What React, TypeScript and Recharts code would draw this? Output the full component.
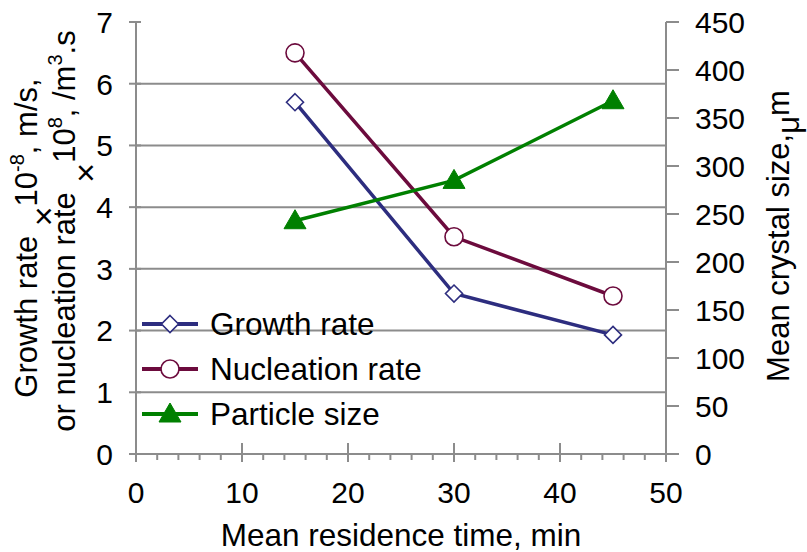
import React from "react";
import { LineChart, Line, XAxis, YAxis, ReferenceLine } from "recharts";

const residenceTime = [15, 30, 45];
const growthRate = [5.7, 2.6, 1.93];
const nucleationRate = [6.5, 3.52, 2.56];
const particleSize = [243, 285, 368];

const xTicks = [0, 2, 4, 6, 8, 10, 12, 14, 16, 18, 20, 22, 24, 26, 28, 30, 32, 34, 36, 38, 40, 42, 44, 46, 48, 50];
const leftTicks = [0, 1, 2, 3, 4, 5, 6, 7];
const rightTicks = [0, 50, 100, 150, 200, 250, 300, 350, 400, 450];
const gridValues = [1, 2, 3, 4, 5, 6];

const data = residenceTime.map((t, i) => ({
  t,
  growth: growthRate[i],
  nucleation: nucleationRate[i],
  size: particleSize[i],
}));

const FONT = "'Liberation Sans', Arial, sans-serif";
const AXIS = "#8c8c8c";
const NAVY = "#2d2d7f";
const MAROON = "#6c0b3d";
const GREEN = "#008000";
const FS = 30;
const TFS = 31;

const XTick = (props: any) => {
  const { x, y, payload } = props;
  const v = payload.value;
  const major = v % 10 === 0;
  return (
    <g>
      {major ? (
        <line x1={x} x2={x} y1={y - 11} y2={y + 8} stroke={AXIS} strokeWidth={2} />
      ) : (
        <line x1={x} x2={x} y1={y} y2={y + 6} stroke={AXIS} strokeWidth={2} />
      )}
      {major && (
        <text x={x} y={y + 49} textAnchor="middle" fontFamily={FONT} fontSize={FS} fill="#000">
          {v}
        </text>
      )}
    </g>
  );
};

const LeftTick = (props: any) => {
  const { x, y, payload } = props;
  return (
    <g>
      <line x1={x - 7} x2={x + 5} y1={y} y2={y} stroke={AXIS} strokeWidth={2} />
      <text x={x - 23} y={y} dy="0.36em" textAnchor="end" fontFamily={FONT} fontSize={FS} fill="#000">
        {payload.value}
      </text>
    </g>
  );
};

const RightTick = (props: any) => {
  const { x, y, payload } = props;
  return (
    <g>
      <line x1={x} x2={x + 13} y1={y} y2={y} stroke={AXIS} strokeWidth={2} />
      <text x={x + 29} y={y} dy="0.36em" textAnchor="start" fontFamily={FONT} fontSize={FS} fill="#000">
        {payload.value}
      </text>
    </g>
  );
};

const Diamond = (props: any) => {
  const { cx, cy, fill } = props;
  if (cx == null || cy == null) return null;
  const s = 8.5;
  return (
    <polygon
      points={`${cx},${cy - s} ${cx + s},${cy} ${cx},${cy + s} ${cx - s},${cy}`}
      fill={fill || "none"}
      stroke={NAVY}
      strokeWidth={1.6}
    />
  );
};

const Circle = (props: any) => {
  const { cx, cy, fill } = props;
  if (cx == null || cy == null) return null;
  return <circle cx={cx} cy={cy} r={9} fill={fill || "none"} stroke={MAROON} strokeWidth={1.6} />;
};

const Triangle = (props: any) => {
  const { cx, cy } = props;
  if (cx == null || cy == null) return null;
  return (
    <polygon
      points={`${cx},${cy - 11} ${cx + 11},${cy + 8} ${cx - 11},${cy + 8}`}
      fill={GREEN}
      stroke={GREEN}
      strokeWidth={1}
    />
  );
};

const legendItems = [
  { name: "Growth rate", color: NAVY, Marker: Diamond },
  { name: "Nucleation rate", color: MAROON, Marker: Circle },
  { name: "Particle size", color: GREEN, Marker: Triangle },
];

const LegendBox = () => (
  <div style={{ position: "absolute", left: 140, top: 302 }}>
    {legendItems.map((it) => (
      <div key={it.name} style={{ display: "flex", alignItems: "center", height: 45 }}>
        <svg width={64} height={45} style={{ display: "block" }}>
          <line x1={2} x2={58} y1={22} y2={22} stroke={it.color} strokeWidth={4} />
          <it.Marker cx={30} cy={22} fill="#fff" />
        </svg>
        <span style={{ fontFamily: FONT, fontSize: 31.5, color: "#000", marginLeft: 6, lineHeight: "45px" }}>
          {it.name}
        </span>
      </div>
    ))}
  </div>
);

const LeftLabel = () => (
  <g fontFamily={FONT} fill="#000">
    <text transform="translate(37,238) rotate(-90)" textAnchor="middle" fontSize={TFS}>
      Growth rate
      <tspan fontSize={34} dy={18}> ×</tspan>
      <tspan fontSize={TFS} dy={-18}>10</tspan>
      <tspan fontSize={20} dy={-13}>-8</tspan>
      <tspan fontSize={TFS} dy={13}>, m/s,</tspan>
    </text>
    <text transform="translate(75,231) rotate(-90)" textAnchor="middle" fontSize={TFS}>
      or nucleation rate
      <tspan fontSize={34} dy={22}> ×</tspan>
      <tspan fontSize={TFS} dy={-22}>10</tspan>
      <tspan fontSize={20} dy={-13}>8</tspan>
      <tspan fontSize={TFS} dy={13}>, /m</tspan>
      <tspan fontSize={20} dy={-13}>3</tspan>
      <tspan fontSize={TFS} dy={13}>.s</tspan>
    </text>
  </g>
);

const RightLabel = () => (
  <text transform="translate(789,236) rotate(-90)" textAnchor="middle" fontFamily={FONT} fontSize={TFS} fill="#000">
    Mean crystal size,
    <tspan dy={10}>μ</tspan>
    <tspan dy={-10}>m</tspan>
  </text>
);

export default function App() {
  return (
    <div style={{ position: "absolute", left: 0, top: 0, width: 807, height: 552, background: "#fff" }}>
      <LineChart width={807} height={552} data={data} margin={{ top: 22, right: 0, bottom: 0, left: 0 }}>
        {gridValues.map((v) => (
          <ReferenceLine key={v} yAxisId="left" y={v} stroke={AXIS} strokeWidth={2} ifOverflow="visible" />
        ))}
        <XAxis
          dataKey="t"
          type="number"
          domain={[0, 50]}
          ticks={xTicks}
          interval={0}
          height={98}
          tickSize={0}
          tickMargin={0}
          tickLine={false}
          tick={<XTick />}
          axisLine={{ stroke: AXIS, strokeWidth: 2 }}
          label={<LeftLabel />}
        />
        <YAxis
          yAxisId="left"
          orientation="left"
          domain={[0, 7]}
          ticks={leftTicks}
          interval={0}
          width={136}
          tickSize={0}
          tickMargin={0}
          tickLine={false}
          tick={<LeftTick />}
          axisLine={{ stroke: AXIS, strokeWidth: 2 }}
        />
        <YAxis
          yAxisId="right"
          orientation="right"
          domain={[0, 450]}
          ticks={rightTicks}
          interval={0}
          width={141}
          tickSize={0}
          tickMargin={0}
          tickLine={false}
          tick={<RightTick />}
          axisLine={{ stroke: AXIS, strokeWidth: 2 }}
          label={<RightLabel />}
        />
        <Line
          yAxisId="left"
          dataKey="growth"
          stroke={NAVY}
          strokeWidth={3.5}
          dot={<Diamond />}
          activeDot={false}
          isAnimationActive={false}
        />
        <Line
          yAxisId="left"
          dataKey="nucleation"
          stroke={MAROON}
          strokeWidth={3.5}
          dot={<Circle />}
          activeDot={false}
          isAnimationActive={false}
        />
        <Line
          yAxisId="right"
          dataKey="size"
          stroke={GREEN}
          strokeWidth={3.5}
          dot={<Triangle />}
          activeDot={false}
          isAnimationActive={false}
        />
      </LineChart>
      <LegendBox />
      <svg width={807} height={552} style={{ position: "absolute", left: 0, top: 0, pointerEvents: "none" }}>
        <text x={401} y={546} textAnchor="middle" fontFamily={FONT} fontSize={31.5} fill="#000">
          Mean residence time, min
        </text>
      </svg>
    </div>
  );
}
